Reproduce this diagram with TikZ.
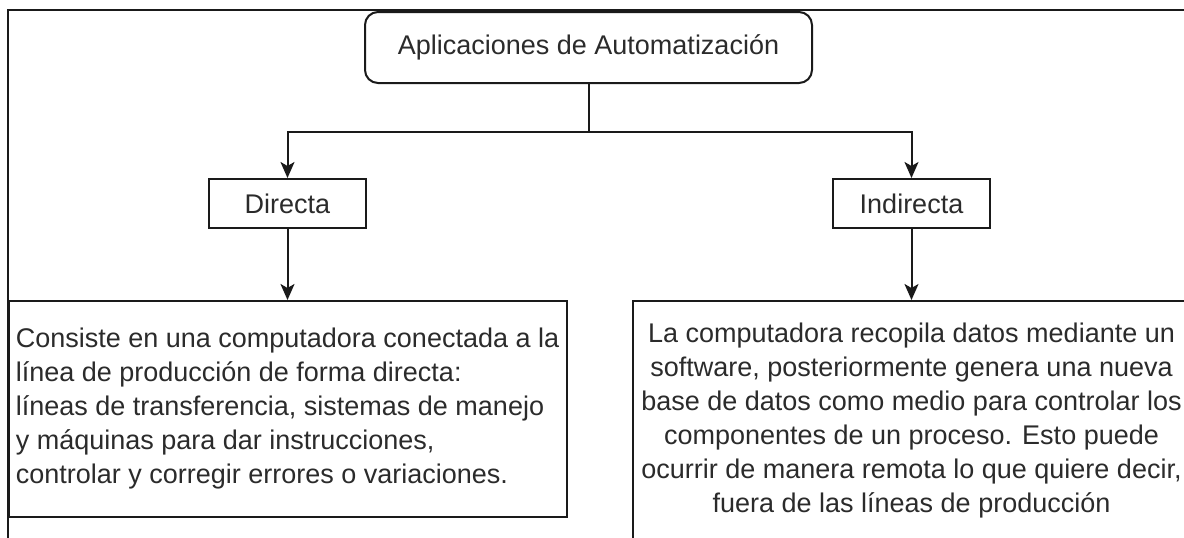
\documentclass[tikz,border=0pt]{standalone}
\usepackage{fontspec}
\setmainfont{Liberation Sans}
\usetikzlibrary{arrows.meta}
\definecolor{linec}{HTML}{1A1A1A}
\definecolor{textc}{HTML}{2B2B2B}
\begin{document}
\begin{tikzpicture}[x=1pt,y=-1pt,
  box/.style={draw=linec, line width=2pt, inner sep=0pt, text=textc,
    font=\fontsize{27}{34}\selectfont},
  smallbox/.style={box, minimum width=157pt, minimum height=49pt},
  arr/.style={draw=linec, line width=2pt,
    -{Stealth[length=16pt,width=14pt,inset=4pt]}},
  frame/.style={draw=linec, line width=2pt}]
\useasboundingbox (0,0) rectangle (1184,538);
\clip (0,0) rectangle (1184,538);
\fill[white] (0,0) rectangle (1184,538);
% outer frame (only top and left visible)
\coordinate (ftr) at (1190,10);
\coordinate (ftl) at (8,10);
\coordinate (fbl) at (8,545);
\draw[frame] (ftr) -- (ftl) -- (fbl);
% nodes
\node[box, rounded corners=13pt, minimum width=447pt, minimum height=71pt]
  (top) at (588.5,47.5) {Aplicaciones de Automatización};
\node[smallbox] (dir) at (287.5,203.5) {Directa};
\node[smallbox] (ind) at (911.5,203.5) {Indirecta};
\node[box, minimum width=558pt, minimum height=216pt, align=left]
  (left) at (287.5,409) {Consiste en una computadora conectada a la\\
línea de producción de forma directa:\\
líneas de transferencia, sistemas de manejo\\
y máquinas para dar instrucciones,\\
controlar y corregir errores o variaciones.};
\node[box, minimum width=557pt, minimum height=240pt, align=center]
  (right) at (911.5,421) {La computadora recopila datos mediante un\\
software, posteriormente genera una nueva\\
base de datos como medio para controlar los\\
componentes de un proceso. Esto puede\\
ocurrir de manera remota lo que quiere decir,\\
fuera de las líneas de producción};
% connectors
\coordinate (j) at (588.5,132);
\draw[frame] (top.south) -- (j);
\draw[arr] (j) -| (dir.north);
\draw[arr] (j) -| (ind.north);
\draw[arr] (dir.south) -- (left.north);
\draw[arr] (ind.south) -- (right.north);
\end{tikzpicture}
\end{document}
